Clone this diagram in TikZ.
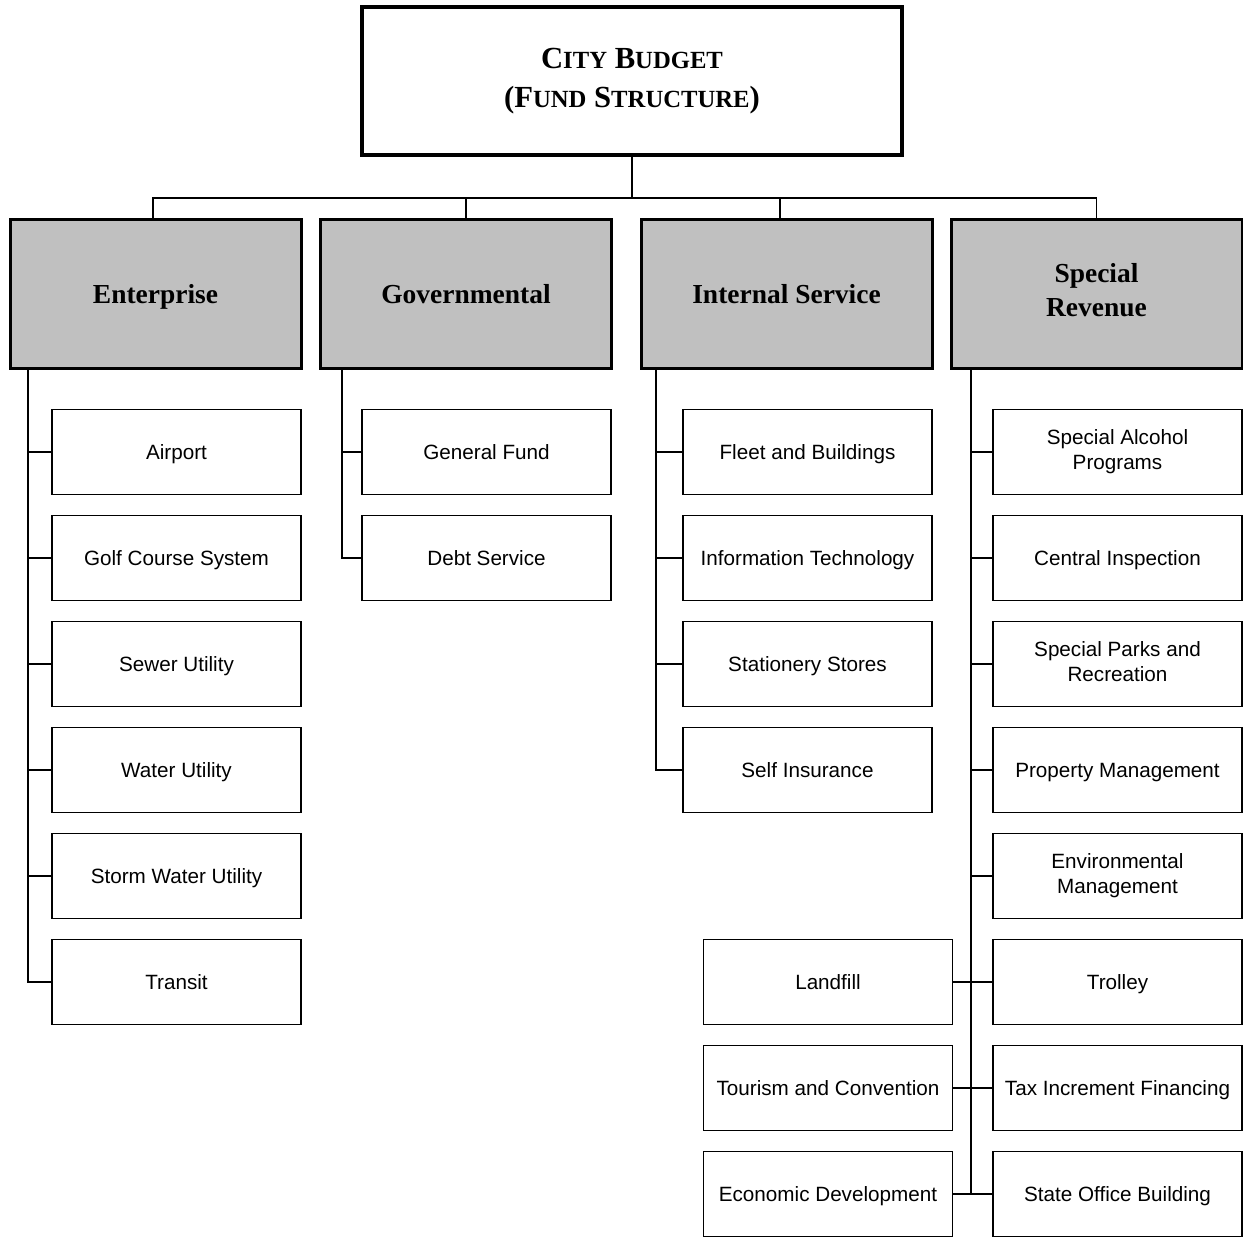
\documentclass[tikz,border=0pt]{standalone}
\usepackage{fontspec}
\setmainfont{Liberation Serif}
\newfontfamily\arialfont{Liberation Sans}
\definecolor{boxgray}{RGB}{192,192,192}
\newcommand{\smcap}[1]{{\fontsize{18.5}{29.25}\selectfont #1}}
\newcommand{\capstrut}[2]{\leavevmode\vrule height #1 depth #2 width 0pt\relax}
\begin{document}
\begin{tikzpicture}[x=0.75pt,y=-0.75pt,line width=1pt,
  fundbox/.style={draw, line width=1pt, minimum width=186.75pt, minimum height=63.75pt, align=center, font=\arialfont\fontsize{15.5}{18.75}\selectfont, execute at begin node={\capstrut{15.1pt}{4pt}}, execute at end node={\capstrut{15.1pt}{4pt}}},
  typebox/.style={draw, line width=2.25pt, fill=boxgray, minimum width=218.25pt, minimum height=111.75pt, align=center, font=\bfseries\fontsize{20.6}{25.5}\selectfont, execute at begin node={\capstrut{20pt}{5pt}}, execute at end node={\capstrut{20pt}{5pt}}},
  headbox/.style={draw, line width=3.4pt, minimum width=405pt, minimum height=111pt, align=center, font=\bfseries\fontsize{23}{29.25}\selectfont, execute at begin node={\capstrut{25.7pt}{4.5pt}}, execute at end node={\capstrut{25.7pt}{4.5pt}}}]
\useasboundingbox (0,0) rectangle (1243,1236);
\clip (0,0) rectangle (1243,1236);

\node[headbox] (top) at (632,81){C\smcap{ITY} B\smcap{UDGET}\\(F\smcap{UND} S\smcap{TRUCTURE})};
\coordinate (bus) at (632,198);

\node[typebox] (ent) at (155.5,293.5){Enterprise};
\node[typebox] (gov) at (466,293.5){Governmental};
\node[typebox] (isv) at (786.5,293.5){Internal Service};
\node[typebox] (srv) at (1096.5,293.5){Special\\Revenue};
\draw[](top) -- (bus);
\draw[]([xshift=-2pt]ent.north) |- (bus);
\draw[](gov.north) |- (bus);
\draw[]([xshift=-5pt]isv.north) |- (bus);
\draw[](srv.north) |- (bus);

\node[fundbox] (e1) at (176.5,452){Airport};
\node[fundbox] (e2) at (176.5,558){Golf Course System};
\node[fundbox] (e3) at (176.5,664){Sewer Utility};
\node[fundbox] (e4) at (176.5,770){Water Utility};
\node[fundbox] (e5) at (176.5,876){Storm Water Utility};
\node[fundbox] (e6) at (176.5,982){Transit};
\coordinate (entsp) at (28,368);
\draw[](entsp) |- (e6.west);
\foreach \n in {e1,e2,e3,e4,e5}
  \draw[](\n.west) -- (\n.west -| entsp);

\node[fundbox] (g1) at (486.5,452){General Fund};
\node[fundbox] (g2) at (486.5,558){Debt Service};
\coordinate (govsp) at (342,368);
\draw[](govsp) |- (g2.west);
\draw[](g1.west) -- (g1.west -| govsp);

\node[fundbox] (i1) at (807.5,452){Fleet and Buildings};
\node[fundbox] (i2) at (807.5,558){Information Technology};
\node[fundbox] (i3) at (807.5,664){Stationery Stores};
\node[fundbox] (i4) at (807.5,770){Self Insurance};
\coordinate (isvsp) at (656,368);
\draw[](isvsp) |- (i4.west);
\foreach \n in {i1,i2,i3}
  \draw[](\n.west) -- (\n.west -| isvsp);

\node[fundbox] (s1) at (1117.5,452){Special Alcohol\\Programs};
\node[fundbox] (s2) at (1117.5,558){Central Inspection};
\node[fundbox] (s3) at (1117.5,664){Special Parks and\\Recreation};
\node[fundbox] (s4) at (1117.5,770){Property Management};
\node[fundbox] (s5) at (1117.5,876){Environmental\\Management};
\node[fundbox] (s6) at (1117.5,982){Trolley};
\node[fundbox] (s7) at (1117.5,1088){Tax Increment Financing};
\node[fundbox] (s8) at (1117.5,1194){State Office Building};
\node[fundbox] (l1) at (828,982){Landfill};
\node[fundbox] (l2) at (828,1088){Tourism and Convention};
\node[fundbox] (l3) at (828,1194){Economic Development};
\coordinate (srvsp) at (971,368);
\draw[](srvsp) |- (s8.west);
\foreach \n in {s1,s2,s3,s4,s5}
  \draw[](\n.west) -- (\n.west -| srvsp);
\draw[](l1.east) -- (s6.west);
\draw[](l2.east) -- (s7.west);
\draw[](l3.east) -- (s8.west);

\end{tikzpicture}
\end{document}
